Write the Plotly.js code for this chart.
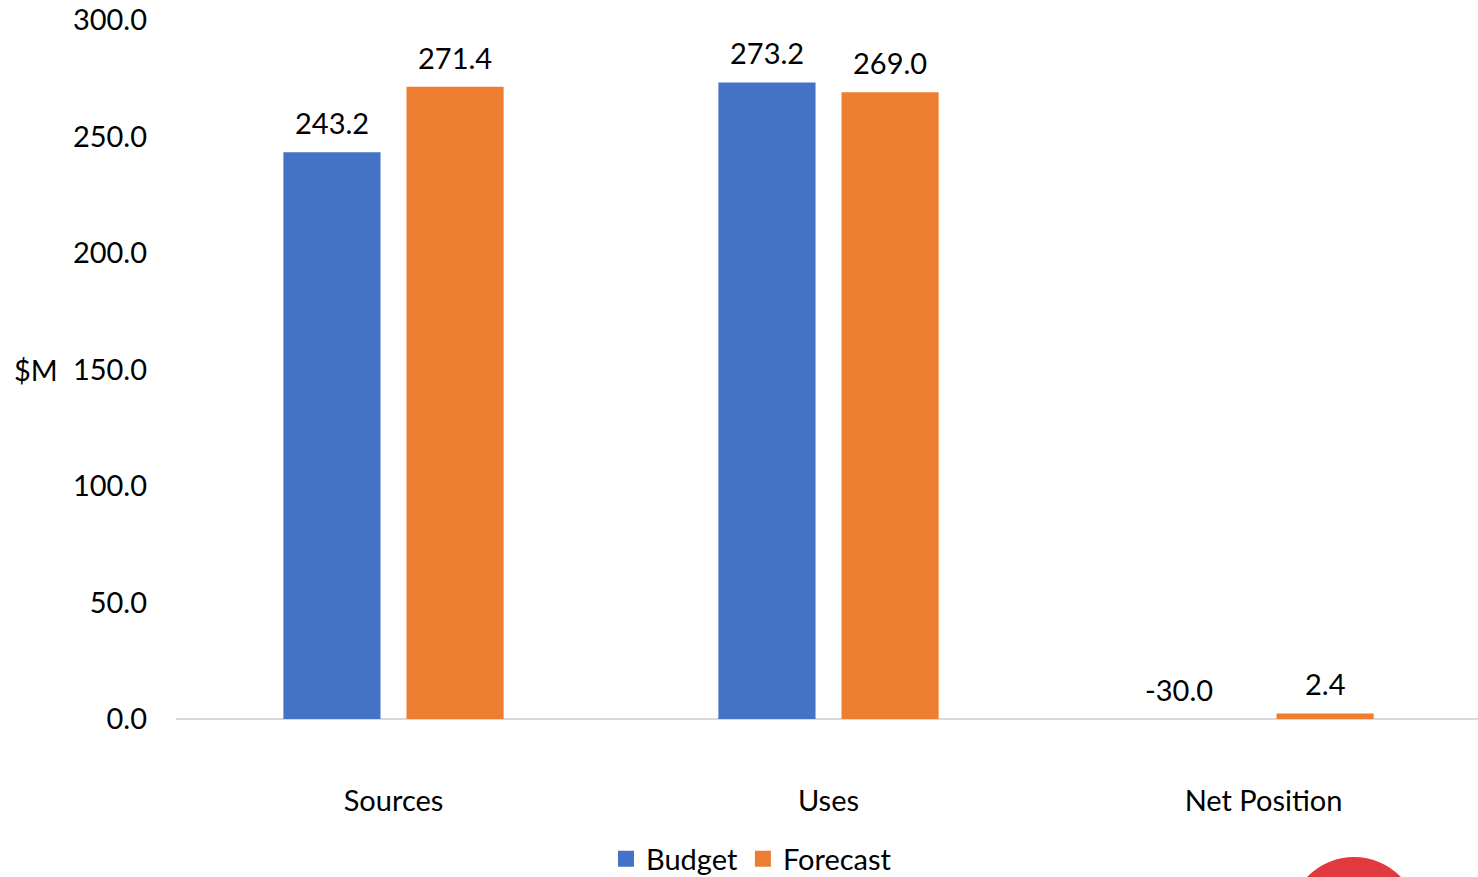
<!DOCTYPE html>
<html>
<head>
<meta charset="utf-8">
<script src="https://cdn.plot.ly/plotly-3.0.1.min.js"></script>
<style>html,body{margin:0;padding:0;background:#fff;}#chart{width:1478px;height:877px;}</style>
</head>
<body>
<div id="chart"></div>
<script>
const categories = ["Sources", "Uses", "Net Position"];
const budget = [243.2, 273.2, -30.0];
const forecast = [271.4, 269.0, 2.4];
const seriesNames = ["Budget", "Forecast"];
const colors = ["#4472C4", "#ED7D31"];
const yTicks = [0, 50, 100, 150, 200, 250, 300];

const FONT = "Lato, 'Noto Sans', sans-serif";
const FS = 29;

const traces = [budget, forecast].map((vals, i) => ({
  type: "bar",
  name: seriesNames[i],
  x: categories,
  y: vals,
  marker: {color: colors[i]},
  hoverinfo: "none",
  showlegend: false
}));
// legend entries with larger square swatches
seriesNames.forEach((n, i) => {
  traces.push({
    type: "scatter", mode: "markers", name: n,
    x: [null], y: [null],
    marker: {symbol: "square", size: 17, color: colors[i]},
    showlegend: true, hoverinfo: "none"
  });
});

const annotations = [];
[budget, forecast].forEach((vals, s) => {
  vals.forEach((v, k) => {
    annotations.push({
      x: k + (s === 0 ? -0.141 : 0.141),
      y: Math.max(v, 0),
      xref: "x", yref: "y",
      text: v.toFixed(1),
      showarrow: false,
      yanchor: "bottom",
      yshift: 10,
      xshift: v < 0 ? -23 : 0,
      font: {family: FONT, size: FS, color: "#000"}
    });
  });
});
annotations.push({
  xref: "paper", yref: "paper",
  x: -0.089, y: 0.5, xanchor: "right", yanchor: "middle",
  text: "$M", showarrow: false,
  font: {family: FONT, size: FS, color: "#000"}
});

const layout = {
  width: 1478, height: 877,
  margin: {l: 176, r: 0, t: 20, b: 158, autoexpand: false},
  paper_bgcolor: "#fff", plot_bgcolor: "#fff",
  barmode: "group",
  bargap: 0.434,
  bargroupgap: 0.211,
  font: {family: FONT, size: FS, color: "#000"},
  xaxis: {
    type: "category",
    range: [-0.5, 2.493],
    showgrid: false, showline: false, zeroline: false,
    ticks: "", ticklabelstandoff: 62,
    tickfont: {family: FONT, size: FS, color: "#000"}
  },
  yaxis: {
    range: [0, 300],
    tickvals: yTicks,
    ticktext: yTicks.map(v => v.toFixed(1)),
    showgrid: false, showline: false,
    zeroline: true, zerolinecolor: "#D9D9D9", zerolinewidth: 2,
    ticks: "", ticklabelstandoff: 28,
    tickfont: {family: FONT, size: FS, color: "#000"}
  },
  showlegend: true,
  legend: {
    orientation: "h",
    x: 0.442, xanchor: "center",
    y: -0.2, yanchor: "middle",
    font: {family: FONT, size: FS, color: "#000"},
    itemwidth: 30,
    traceorder: "normal"
  },
  annotations: annotations,
  shapes: [{
    type: "circle", xref: "paper", yref: "paper",
    x0: (1354 - 65 - 176) / 1302, x1: (1354 + 65 - 176) / 1302,
    y0: -(922 + 65 - 719) / 699, y1: -(922 - 65 - 719) / 699,
    fillcolor: "#E03A3E", line: {width: 0}, layer: "above"
  }]
};

Plotly.newPlot("chart", traces, layout, {staticPlot: true, displayModeBar: false});
</script>
</body>
</html>
